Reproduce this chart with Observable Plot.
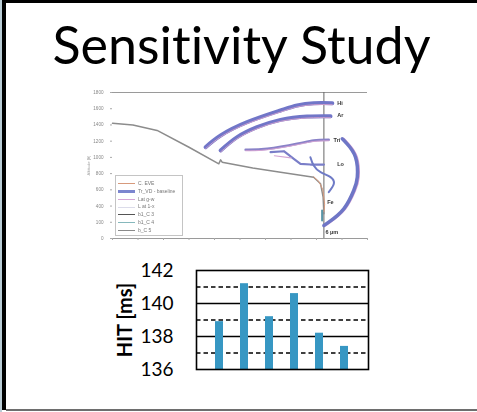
<!DOCTYPE html>
<html>
<head>
<meta charset="utf-8">
<script src="https://cdn.jsdelivr.net/npm/d3@7"></script>
<script src="https://cdn.jsdelivr.net/npm/@observablehq/plot@0.6"></script>
<style>
  html, body { margin: 0; padding: 0; background: #fff; }
  #page { position: relative; width: 477px; height: 412px; overflow: hidden; background: #fff; font-family: Lato, sans-serif; }
  .abs { position: absolute; }
  #title { left: 6px; width: 471px; top: 18px; text-align: center; font-size: 52px; line-height: 52px; color: #000; white-space: nowrap; font-variant-ligatures: none; font-feature-settings: "liga" 0, "clig" 0; }
  #sim { left: 84px; top: 84px; filter: blur(0.65px); }
  #legend { left: 115px; top: 175px; width: 66px; height: 59px; border: 1px solid #c4c4c4; background: #fff; filter: blur(0.55px); }
  .lg { position: absolute; left: 2px; height: 8px; font-size: 5px; line-height: 8px; color: #777; white-space: nowrap; font-family: Arial, "Liberation Sans", sans-serif; }
  .lg i { display: inline-block; width: 17px; vertical-align: middle; margin-right: 3px; }
  #bars { left: 100px; top: 255px; }
</style>
</head>
<body>
<div id="page">
  <div class="abs" style="left:0;top:0;width:2px;height:412px;background:#b9ccd5"></div>
  <div class="abs" style="left:2px;top:0;width:4px;height:410px;background:#000"></div>
  <div class="abs" style="left:2px;top:0;width:475px;height:3px;background:#000"></div>
  <div class="abs" style="left:6px;top:409px;width:471px;height:2px;background:#6e6e6e"></div>
  <div id="title" class="abs"></div>
  <div id="sim" class="abs"></div>
  <div id="legend" class="abs"></div>
  <div id="bars" class="abs"></div>
</div>
<script>
// ---------- text ----------
const titleText = "Sensitivity Study";

// ---------- bar chart data ----------
const runLabels = ["1", "2", "3", "4", "5", "6"];
const hitValues = [138.9, 141.2, 139.2, 140.6, 138.2, 137.4];
const hitTicks = [136, 138, 140, 142];
const hitSolidGrid = [138, 140];
const hitDashedGrid = [137, 139, 141];
const hitLabel = "HIT [ms]";

// ---------- embedded simulation chart data (x: 0-100, y: 0-1800) ----------
const altTicks = [0, 200, 400, 600, 800, 1000, 1200, 1400, 1600, 1800];
const altTickLabels = ["0", "100", "400", "600", "800", "1000", "1200", "1400", "1600", "1800"];
const markerX = [82.9];
const baseGray = [[0,1421],[8,1400],[17.5,1332],[30,1125],[41.7,921],[42.4,970],[43.0,941],[55,870],[65.9,818],[78.9,756],[81.6,674],[82.6,510],[82.9,304]];
const orangeTail = [[78.9,760],[81.0,700],[82.5,600],[83.2,420],[82.9,330]];
const hiCurve = [[36.5,1126],[42.4,1270],[52.8,1434],[65.9,1578],[72.4,1640],[78.9,1668],[86.2,1668]];
const arCurve = [[42.4,1085],[48.9,1249],[56.7,1372],[65.9,1463],[76.3,1504],[85.5,1508]];
const triCurve = [[52.2,1094],[60.7,1106],[72.4,1168],[78.9,1208],[84.8,1217]];
const loCurve = [[62.0,1064],[67.2,1076],[71.1,983],[73.7,921],[77.6,912],[82.9,912]];
const pinkShort = [[63.5,1020],[70.0,995]];
const wiggle = [[77.6,1002],[78.9,900],[81.6,818],[85.5,756],[86.8,674],[84.8,571]];
const bigLoop = [[82.9,160],[84.8,201],[90.7,366],[94.6,592],[96.0,756],[95.3,1002],[92.0,1167],[90.1,1229]];
const tealStub = [[82.2,345],[82.2,222]];
const curveLabels = ["Hi", "Ar", "Tri", "Lo", "Fe", "6 µm"];
const curveLabelX = [88.1, 88.1, 86.7, 88.1, 84.2, 83.5];
const curveLabelY = [1668, 1517, 1217, 921, 448, 78];
const legendNames = ["C. EVE", "Tr_VD - baseline", "Lat g-w", "L at 1-x", "b1_C 3", "b1_C 4", "b_C 5"];
const legendColors = ["#d79a7c", "#7c86cf", "#d6a6d6", "#dcdcea", "#555555", "#86b8bc", "#8a8a8a"];
const legendWidths = [1.2, 3, 1.2, 1.2, 1.2, 1.2, 1.2];

document.getElementById("title").textContent = titleText;

// ---------- simulation chart ----------
const pts = a => a.map(([x, y]) => ({x, y}));
const labelRows = curveLabels.map((t, i) => ({t, x: curveLabelX[i], y: curveLabelY[i]}));

const sim = Plot.plot({
  width: 290, height: 162,
  marginLeft: 28, marginRight: 7, marginTop: 8, marginBottom: 8,
  x: {domain: [0, 100], axis: null},
  y: {domain: [0, 1800]},
  style: {background: "transparent", fontFamily: "Arial, 'Liberation Sans', sans-serif"},
  marks: [
    Plot.ruleY([1800], {stroke: "#9a9a9a", strokeWidth: 1}),
    Plot.ruleY([0], {stroke: "#9a9a9a", strokeWidth: 1}),
    Plot.axisX({ticks: 10, tickFormat: () => "", tickSize: 2, stroke: "#aaa", label: null}),
    Plot.axisY({ticks: altTicks, tickFormat: (d, i) => altTickLabels[i], tickSize: 2, fontSize: 4.6, fill: "#888", stroke: "#aaa", label: null}),
    Plot.text(["Altitude [ft]"], {frameAnchor: "left", textAnchor: "middle", rotate: -90, dx: -24, fontSize: 4.2, fill: "#a0a0a0"}),
    Plot.ruleX(markerX, {stroke: "#666", strokeWidth: 1}),
    Plot.line(pts(baseGray), {x: "x", y: "y", stroke: "#8c8c8c", strokeWidth: 1.5}),
    Plot.line(pts(orangeTail), {x: "x", y: "y", stroke: "#d79a7c", strokeWidth: 1}),
    Plot.line(pts(hiCurve), {x: "x", y: "y", stroke: "#7176c8", strokeWidth: 4, curve: "natural"}),
    Plot.line(pts(hiCurve), {x: "x", y: "y", stroke: "#c99ccc", strokeWidth: 1, dy: 1.5, curve: "natural"}),
    Plot.line(pts(arCurve), {x: "x", y: "y", stroke: "#7176c8", strokeWidth: 4, curve: "natural"}),
    Plot.line(pts(arCurve), {x: "x", y: "y", stroke: "#c99ccc", strokeWidth: 1, dy: 1.5, curve: "natural"}),
    Plot.line(pts(triCurve), {x: "x", y: "y", stroke: "#8a82c8", strokeWidth: 2.5, curve: "natural"}),
    Plot.line(pts(triCurve), {x: "x", y: "y", stroke: "#d3a3d3", strokeWidth: 1, dy: 1, curve: "natural"}),
    Plot.line(pts(loCurve), {x: "x", y: "y", stroke: "#7a7ec8", strokeWidth: 2.2}),
    Plot.line(pts(pinkShort), {x: "x", y: "y", stroke: "#d3a3d3", strokeWidth: 1.2}),
    Plot.line(pts(wiggle), {x: "x", y: "y", stroke: "#6f7bc6", strokeWidth: 2, curve: "natural"}),
    Plot.line(pts(bigLoop), {x: "x", y: "y", stroke: "#d3a0d3", strokeWidth: 2, dx: 1.5, curve: "natural"}),
    Plot.line(pts(bigLoop), {x: "x", y: "y", stroke: "#6e76c6", strokeWidth: 3.5, curve: "natural"}),
    Plot.line(pts(tealStub), {x: "x", y: "y", stroke: "#5a96a8", strokeWidth: 2}),
    Plot.text(labelRows, {x: "x", y: "y", text: "t", textAnchor: "start", fontSize: 5.5, fill: "#333", fontWeight: "bold"})
  ]
});
document.getElementById("sim").appendChild(sim);

// legend of the embedded chart
const lg = document.getElementById("legend");
legendNames.forEach((n, i) => {
  const d = document.createElement("div");
  d.className = "lg";
  d.style.top = (3 + i * 7.8) + "px";
  const sw = document.createElement("i");
  sw.style.borderTop = legendWidths[i] + "px solid " + legendColors[i];
  d.appendChild(sw);
  d.appendChild(document.createTextNode(n));
  lg.appendChild(d);
});

// ---------- bar chart ----------
const barRows = runLabels.map((r, i) => ({run: r, hit: hitValues[i]}));
const bars = Plot.plot({
  width: 280, height: 124,
  marginLeft: 96, marginRight: 12, marginTop: 15, marginBottom: 10,
  x: {domain: runLabels, padding: 0.675, axis: null},
  y: {domain: [hitTicks[0], hitTicks[hitTicks.length - 1]]},
  style: {background: "transparent", fontFamily: "Lato, sans-serif", color: "#000"},
  marks: [
    Plot.ruleY(hitDashedGrid, {stroke: "#000", strokeWidth: 1.3, strokeDasharray: "4.5,3"}),
    Plot.ruleY(hitSolidGrid, {stroke: "#000", strokeWidth: 1.3}),
    Plot.barY(barRows, {x: "run", y1: hitTicks[0], y2: "hit", fill: "#3797c3"}),
    Plot.frame({stroke: "#000", strokeWidth: 1.6}),
    Plot.axisY({ticks: hitTicks, tickFormat: d => String(d), tickSize: 0, tickPadding: 23, fontSize: 19, label: null, fill: "#000"}),
    Plot.text([hitLabel], {frameAnchor: "left", textAnchor: "middle", rotate: -90, dx: -71, fontSize: 20, fontWeight: "bold", fill: "#000"})
  ]
});
document.getElementById("bars").appendChild(bars);
</script>
</body>
</html>
